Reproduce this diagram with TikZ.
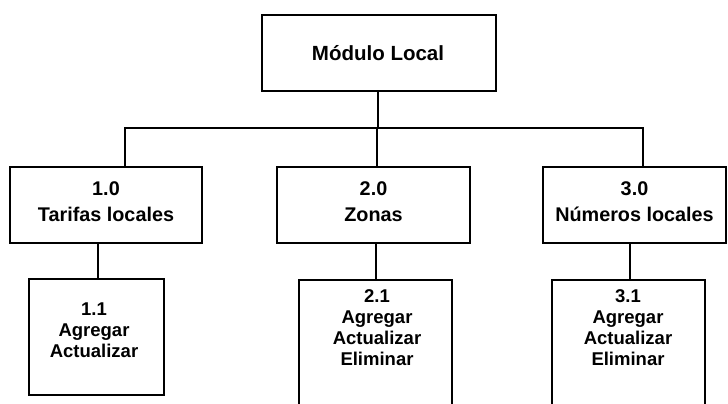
\documentclass[tikz,border=0pt]{standalone}
\usepackage{fontspec}
\setmainfont{Liberation Sans}
\begin{document}
\begin{tikzpicture}[x=1pt,y=-1pt,
  box/.style={draw=black,line width=1.7pt,inner sep=0pt},
  txt/.style={align=center,inner sep=0pt,font=\bfseries\fontsize{18.5}{21}\selectfont},
  txtb/.style={align=center,inner sep=0pt,font=\bfseries\fontsize{19.8}{26}\selectfont},
  conn/.style={draw=black,line width=1.7pt}]
\useasboundingbox (0,0) rectangle (728,404);
\clip (0,0) rectangle (728,404);
% top
\node[box,minimum width=234pt,minimum height=76pt] (T) at (379,53) {};
\node[txtb,font=\bfseries\fontsize{20.5}{26}\selectfont] (Tt) at (378,53) {Módulo Local};
% level 2
\node[box,minimum width=192pt,minimum height=76pt] (A) at (106,205) {};
\node[box,minimum width=193pt,minimum height=76pt] (B) at (373.5,205) {};
\node[box,minimum width=183pt,minimum height=76pt] (C) at (634.5,205) {};
\node[txtb] (At) at (106,202) {1.0\\Tarifas locales};
\node[txtb] (Bt) at (373.5,202) {2.0\\Zonas};
\node[txtb] (Ct) at (634.5,202) {3.0\\Números locales};
% level 3
\node[box,minimum width=135pt,minimum height=116pt] (D) at (96.5,337) {};
\node[box,minimum width=153pt,minimum height=140pt] (E) at (375.5,350) {};
\node[box,minimum width=153pt,minimum height=140pt] (F) at (628.5,350) {};
\node[txt] (Dt) at (94,330.5) {1.1\\Agregar\\Actualizar};
\node[txt] (Et) at (377,327.5) {2.1\\Agregar\\Actualizar\\Eliminar};
\node[txt] (Ft) at (628,327.5) {3.1\\Agregar\\Actualizar\\Eliminar};
% bus
\coordinate (b0) at (378,128);
\coordinate (b1) at (125,128);
\coordinate (b2) at (377,128);
\coordinate (b3) at (643,128);
\draw[conn] (T.south -| b0) -- (b0);
\draw[conn,line cap=rect] (b1) -- (b3);
\draw[conn] (b1) -- (b1 |- A.north);
\draw[conn] (b2) -- (b2 |- B.north);
\draw[conn] (b3) -- (b3 |- C.north);
% lower connectors
\coordinate (l1) at (98,243);
\coordinate (l2) at (376,243);
\coordinate (l3) at (630,243);
\draw[conn] (l1) -- (l1 |- D.north);
\draw[conn] (l2) -- (l2 |- E.north);
\draw[conn] (l3) -- (l3 |- F.north);
\end{tikzpicture}
\end{document}
